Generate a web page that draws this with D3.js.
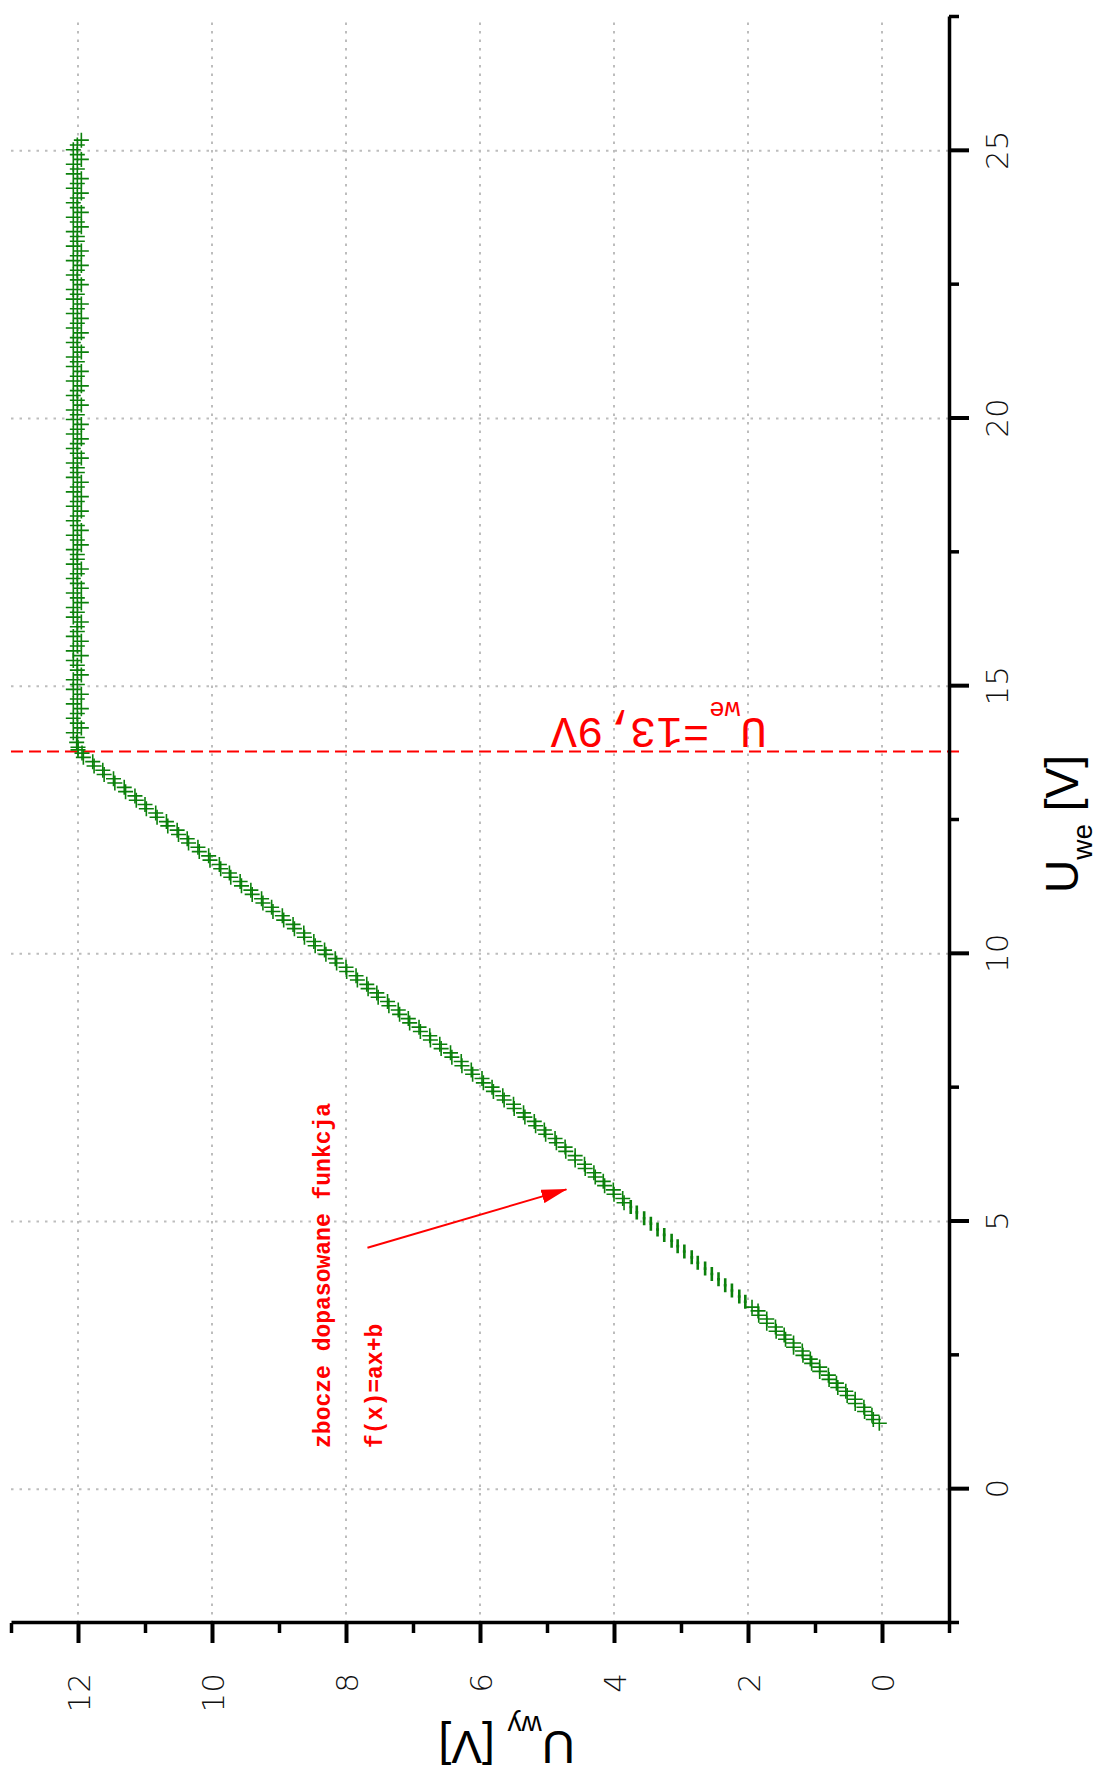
<!DOCTYPE html>
<html>
<head>
<meta charset="utf-8">
<script src="https://cdn.jsdelivr.net/npm/d3@7"></script>
<style>
  body { margin: 0; background: #fff; }
</style>
</head>
<body>
<div id="chart"></div>
<script>
// U_we [V] / U_wy [V] (rising slope, sparse stretch, flat plateau)
const uweRamp = [
  1.23, 1.30, 1.38, 1.45, 1.53, 1.60, 1.68, 1.75, 1.83, 1.90,
  1.98, 2.05, 2.13, 2.20, 2.28, 2.35, 2.43, 2.50, 2.58, 2.65,
  2.73, 2.80, 2.88, 2.95, 3.03, 3.10, 3.18, 3.25, 3.33, 3.40,
  5.35, 5.43, 5.51, 5.59, 5.67, 5.75, 5.83, 5.91, 5.99, 6.07,
  6.15, 6.23, 6.31, 6.39, 6.47, 6.55, 6.63, 6.71, 6.79, 6.87,
  6.95, 7.03, 7.11, 7.19, 7.27, 7.35, 7.43, 7.51, 7.59, 7.67,
  7.75, 7.83, 7.91, 7.99, 8.07, 8.15, 8.23, 8.31, 8.39, 8.47,
  8.55, 8.63, 8.71, 8.79, 8.87, 8.95, 9.03, 9.11, 9.19, 9.27,
  9.35, 9.43, 9.51, 9.59, 9.67, 9.75, 9.83, 9.91, 9.99, 10.07,
  10.15, 10.23, 10.31, 10.39, 10.47, 10.55, 10.63, 10.71, 10.79, 10.87,
  10.95, 11.03, 11.11, 11.19, 11.27, 11.35, 11.43, 11.51, 11.59, 11.67,
  11.75, 11.83, 11.91, 11.99, 12.07, 12.15, 12.23, 12.31, 12.39, 12.47,
  12.55, 12.63, 12.71, 12.79, 12.87, 12.95, 13.03, 13.11, 13.19, 13.27,
  13.35, 13.43, 13.51, 13.59, 13.67, 13.75, 13.81
];
const uwyRamp = [
  0.04, 0.13, 0.15, 0.26, 0.27, 0.40, 0.40, 0.52, 0.54, 0.66,
  0.68, 0.79, 0.80, 0.93, 0.93, 1.05, 1.07, 1.18, 1.19, 1.32,
  1.32, 1.44, 1.46, 1.58, 1.59, 1.72, 1.72, 1.84, 1.85, 1.94,
  3.85, 3.87, 4.00, 4.01, 4.14, 4.16, 4.28, 4.30, 4.43, 4.44,
  4.58, 4.58, 4.72, 4.73, 4.86, 4.88, 5.02, 5.04, 5.17, 5.19,
  5.33, 5.35, 5.49, 5.50, 5.64, 5.66, 5.80, 5.82, 5.95, 5.97,
  6.11, 6.13, 6.27, 6.28, 6.42, 6.44, 6.58, 6.60, 6.74, 6.75,
  6.89, 6.91, 7.05, 7.07, 7.20, 7.22, 7.36, 7.38, 7.52, 7.54,
  7.67, 7.69, 7.83, 7.85, 7.99, 8.00, 8.14, 8.16, 8.30, 8.32,
  8.46, 8.48, 8.62, 8.63, 8.77, 8.79, 8.93, 8.95, 9.09, 9.11,
  9.24, 9.26, 9.40, 9.42, 9.56, 9.58, 9.72, 9.74, 9.87, 9.89,
  10.03, 10.05, 10.19, 10.21, 10.35, 10.37, 10.50, 10.52, 10.66, 10.68,
  10.82, 10.84, 10.98, 11.00, 11.13, 11.15, 11.29, 11.31, 11.45, 11.47,
  11.61, 11.63, 11.76, 11.78, 11.92, 11.94, 12.00
];
const uweGap = [
  3.50, 3.60, 3.71, 3.81, 3.92, 4.02, 4.12, 4.23, 4.33, 4.44,
  4.54, 4.64, 4.75, 4.85, 4.96, 5.06, 5.17, 5.27
];
const uwyGap = [
  2.04, 2.13, 2.24, 2.34, 2.44, 2.54, 2.64, 2.75, 2.84, 2.95,
  3.05, 3.14, 3.25, 3.35, 3.45, 3.55, 3.66, 3.75
];
const uweFlat = [
  13.86, 13.95, 14.04, 14.13, 14.22, 14.31, 14.40, 14.49, 14.58, 14.67,
  14.76, 14.85, 14.94, 15.03, 15.12, 15.21, 15.30, 15.39, 15.48, 15.57,
  15.66, 15.75, 15.84, 15.93, 16.02, 16.11, 16.20, 16.29, 16.38, 16.47,
  16.56, 16.65, 16.74, 16.83, 16.92, 17.01, 17.10, 17.19, 17.28, 17.37,
  17.46, 17.55, 17.64, 17.73, 17.82, 17.91, 18.00, 18.09, 18.18, 18.27,
  18.36, 18.45, 18.54, 18.63, 18.72, 18.81, 18.90, 18.99, 19.08, 19.17,
  19.26, 19.35, 19.44, 19.53, 19.62, 19.71, 19.80, 19.89, 19.98, 20.07,
  20.16, 20.25, 20.34, 20.43, 20.52, 20.61, 20.70, 20.79, 20.88, 20.97,
  21.06, 21.15, 21.24, 21.33, 21.42, 21.51, 21.60, 21.69, 21.78, 21.87,
  21.96, 22.05, 22.14, 22.23, 22.32, 22.41, 22.50, 22.59, 22.68, 22.77,
  22.86, 22.95, 23.04, 23.13, 23.22, 23.31, 23.40, 23.49, 23.58, 23.67,
  23.76, 23.85, 23.94, 24.03, 24.12, 24.21, 24.30, 24.39, 24.48, 24.57,
  24.66, 24.75, 24.84, 24.93, 25.02, 25.11, 25.20
];
const uwyFlat = [
  12.00, 12.02, 12.01, 12.07, 11.95, 12.01, 12.07, 12.01, 11.95, 12.07,
  12.01, 11.95, 12.07, 12.01, 12.07, 11.95, 12.01, 12.01, 12.07, 11.95,
  12.07, 12.01, 11.95, 12.07, 12.01, 12.01, 11.95, 12.07, 12.01, 12.07,
  11.95, 12.01, 12.07, 11.95, 12.01, 12.07, 12.01, 11.95, 12.07, 12.01,
  12.01, 12.07, 11.95, 12.01, 12.07, 11.95, 12.01, 12.07, 12.01, 11.95,
  12.07, 12.01, 11.95, 12.07, 12.01, 11.95, 12.07, 12.01, 12.01, 12.07,
  11.95, 12.01, 12.07, 12.01, 11.95, 12.07, 12.01, 11.95, 12.07, 12.01,
  12.07, 11.95, 12.01, 12.07, 12.01, 11.95, 12.07, 12.01, 11.95, 12.07,
  12.01, 12.07, 11.95, 12.01, 12.07, 12.01, 11.95, 12.07, 12.01, 11.95,
  12.07, 12.01, 11.95, 12.07, 12.01, 12.07, 11.95, 12.01, 12.07, 12.01,
  11.95, 12.07, 12.01, 11.95, 12.07, 12.01, 12.01, 12.07, 11.95, 12.01,
  12.07, 11.95, 12.01, 12.07, 12.01, 11.95, 12.07, 12.01, 11.95, 12.07,
  12.01, 12.07, 11.95, 12.01, 12.07, 12.01, 11.95
];

const xMajor = [0, 5, 10, 15, 20, 25];
const xMinor = [-2.5, 2.5, 7.5, 12.5, 17.5, 22.5, 27.5];
const yMajor = [0, 2, 4, 6, 8, 10, 12];
const yMinor = [-1, 1, 3, 5, 7, 9, 11, 13];

const kneeU = 13.78;
const kneeText = ["U", "we", "=13,9V"];
const noteLines = ["zbocze dopasowane funkcja", "f(x)=ax+b"];
const arrowFrom = [4.51, 7.68];
const arrowTo = [5.60, 4.71];

function renderTransferChart(elementId) {
    const W = 1104, H = 1775;
    const tickFont = "'DejaVu Sans', sans-serif";

    d3.select(elementId).selectAll("*").remove();

    const svg = d3.select(elementId)
        .append("svg")
        .attr("width", W)
        .attr("height", H);

    svg.append("rect").attr("width", W).attr("height", H).attr("fill", "#fff");

    svg.append("defs").append("marker")
        .attr("id", "arrowhead")
        .attr("markerUnits", "userSpaceOnUse")
        .attr("markerWidth", 26)
        .attr("markerHeight", 14)
        .attr("refX", 25)
        .attr("refY", 7)
        .attr("orient", "auto")
        .append("path")
        .attr("d", "M0,0L26,7L0,14Z")
        .attr("fill", "red");

    // chart is laid out landscape, then turned a quarter turn
    const g = svg.append("g")
        .attr("transform", `translate(0,${H}) rotate(-90)`);

    const x = d3.scaleLinear().domain([-2.5, 27.5]).range([152, 1758]);
    const y = d3.scaleLinear().domain([-1, 13]).range([949, 11]);

    // dotted grid
    const grid = g.append("g")
        .attr("stroke", "#bdbdbd")
        .attr("stroke-width", 2)
        .attr("stroke-dasharray", "2.5,6");
    grid.selectAll(".gx")
        .data(xMajor)
        .enter()
        .append("line")
        .attr("x1", d => x(d)).attr("x2", d => x(d))
        .attr("y1", y(13)).attr("y2", y(-1));
    grid.selectAll(".gy")
        .data(yMajor)
        .enter()
        .append("line")
        .attr("x1", x(-2.5)).attr("x2", x(27.5))
        .attr("y1", d => y(d)).attr("y2", d => y(d));

    // knee marker line
    g.append("line")
        .attr("x1", x(kneeU)).attr("x2", x(kneeU))
        .attr("y1", y(13)).attr("y2", y(-1) + 14)
        .attr("stroke", "red")
        .attr("stroke-width", 2)
        .attr("stroke-dasharray", "12,6");

    // axes
    const styleAxis = sel => {
        sel.selectAll("line").attr("stroke", "#000");
        sel.select(".domain").attr("stroke", "#000").attr("stroke-width", 3.5);
    };

    const xAxisMinor = g.append("g")
        .attr("transform", `translate(0,${y(-1)})`)
        .call(d3.axisBottom(x).tickValues(xMinor).tickSize(10).tickSizeOuter(0).tickFormat(""));
    xAxisMinor.select(".domain").remove();
    xAxisMinor.selectAll("line").attr("stroke", "#000").attr("stroke-width", 3.5);

    const xAxis = g.append("g")
        .attr("transform", `translate(0,${y(-1)})`)
        .call(d3.axisBottom(x).tickValues(xMajor).tickSize(20).tickSizeOuter(0));
    styleAxis(xAxis);
    xAxis.selectAll(".tick line").attr("stroke-width", 4);
    xAxis.selectAll("text")
        .attr("y", 59)
        .attr("dy", 0)
        .attr("font-family", tickFont)
        .attr("font-weight", 200)
        .attr("font-size", 31)
        .attr("fill", "#111");

    const yAxisMinor = g.append("g")
        .attr("transform", `translate(${x(-2.5)},0)`)
        .call(d3.axisLeft(y).tickValues(yMinor).tickSize(10).tickSizeOuter(0).tickFormat(""));
    yAxisMinor.select(".domain").remove();
    yAxisMinor.selectAll("line").attr("stroke", "#000").attr("stroke-width", 3.5);

    const yAxis = g.append("g")
        .attr("transform", `translate(${x(-2.5)},0)`)
        .call(d3.axisLeft(y).tickValues(yMajor).tickSize(20).tickSizeOuter(0));
    styleAxis(yAxis);
    yAxis.selectAll(".tick line").attr("stroke-width", 4);
    yAxis.selectAll("text")
        .attr("x", -50)
        .attr("dy", "0.36em")
        .attr("font-family", tickFont)
        .attr("font-weight", 200)
        .attr("font-size", 31)
        .attr("fill", "#111");

    // measured points
    const ramp = uweRamp.map((u, i) => ({ u: u, w: uwyRamp[i] }));
    const flat = uweFlat.map((u, i) => ({ u: u, w: uwyFlat[i] }));
    const gap = uweGap.map((u, i) => ({ u: u, w: uwyGap[i] }));

    const pts = g.append("g")
        .attr("fill", "none")
        .attr("stroke", "#0b800b")
        .attr("stroke-width", 1.6);

    pts.selectAll(".cross")
        .data(ramp.concat(flat))
        .enter()
        .append("path")
        .attr("transform", d => `translate(${x(d.u)},${y(d.w)})`)
        .attr("d", "M-7.5,0H7.5M0,-7.5V7.5");

    pts.selectAll(".bar")
        .data(gap)
        .enter()
        .append("path")
        .attr("transform", d => `translate(${x(d.u)},${y(d.w)})`)
        .attr("stroke-width", 2.6)
        .attr("d", "M-7,0H7M0,-1.5V1.5");

    // knee label, along the dashed line
    const kt = g.append("text")
        .attr("transform", `translate(${x(14.40)},${y(1.72)}) rotate(-90)`)
        .attr("font-family", "'Liberation Mono', monospace")
        .attr("font-size", 44)
        .attr("fill", "red");
    kt.append("tspan").text(kneeText[0]);
    kt.append("tspan").attr("font-size", 26).attr("dy", 16).text(kneeText[1]);
    kt.append("tspan").attr("dy", -16).text(kneeText[2]);

    // fit note + arrow
    g.selectAll(".note")
        .data(noteLines)
        .enter()
        .append("text")
        .attr("x", x(0.77))
        .attr("y", (d, i) => y(i === 0 ? 8.24 : 7.46))
        .attr("font-family", "'Liberation Mono', monospace")
        .attr("font-weight", "bold")
        .attr("font-size", 23)
        .attr("fill", "red")
        .text(d => d);

    g.append("line")
        .attr("x1", x(arrowFrom[0])).attr("y1", y(arrowFrom[1]))
        .attr("x2", x(arrowTo[0])).attr("y2", y(arrowTo[1]))
        .attr("stroke", "red")
        .attr("stroke-width", 2)
        .attr("marker-end", "url(#arrowhead)");

    // axis titles
    const xt = g.append("text")
        .attr("x", 882)
        .attr("y", 1078)
        .attr("font-family", "'Liberation Sans', Arial, sans-serif")
        .attr("font-size", 46)
        .attr("fill", "#000");
    xt.append("tspan").text("U");
    xt.append("tspan").attr("font-size", 28).attr("dy", 14).text("we");
    xt.append("tspan").attr("dy", -14).text(" [V]");

    const yt = g.append("text")
        .attr("transform", `translate(44,575) rotate(-90)`)
        .attr("font-family", "'Liberation Sans', Arial, sans-serif")
        .attr("font-size", 46)
        .attr("fill", "#000");
    yt.append("tspan").text("U");
    yt.append("tspan").attr("font-size", 28).attr("dy", 15).text("wy");
    yt.append("tspan").attr("dy", -15).text(" [V]");
}

renderTransferChart("#chart");
</script>
</body>
</html>
